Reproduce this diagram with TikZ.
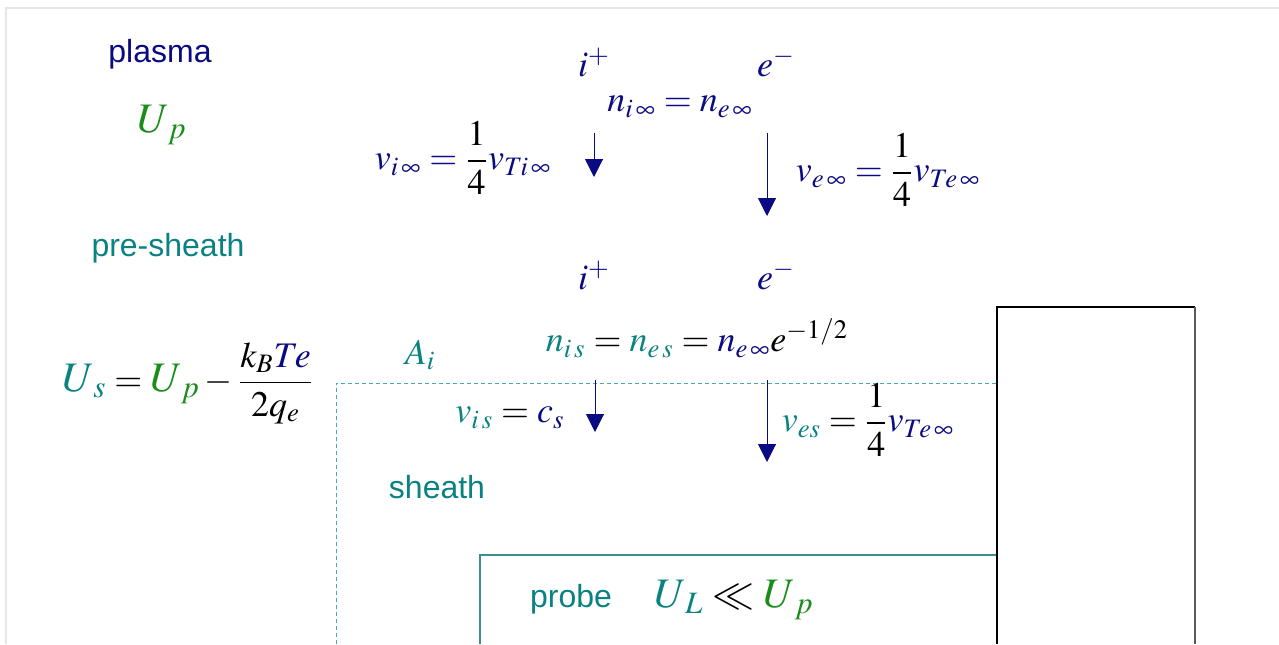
\documentclass[tikz,border=0pt]{standalone}
\usepackage{amsmath}
\usepackage{mathptmx}
\usepackage[no-math]{fontspec}
\setsansfont{Liberation Sans}
\usepackage{tikz}
\usetikzlibrary{arrows.meta}
\definecolor{cnavy}{HTML}{0A0A82}
\definecolor{cteal}{HTML}{0A8282}
\definecolor{cgreen}{HTML}{1A8C1A}
\definecolor{cdash}{HTML}{4AAAAA}
\definecolor{cbox}{HTML}{3A9090}
\definecolor{cframe}{HTML}{E6E6E6}
\begin{document}
\begin{tikzpicture}[x=0.5pt,y=-0.5pt,
  lbl/.style={font=\sffamily\fontsize{16}{19}\selectfont,inner sep=0pt},
  eq/.style={font=\fontsize{18}{22}\selectfont,inner sep=0pt},
  big/.style={font=\fontsize{21}{25}\selectfont,inner sep=0pt},
  flow/.style={draw=cnavy,line width=0.5pt,-{Triangle[length=9pt,width=9pt]}}]
  \useasboundingbox (0,0) rectangle (1279,644);
  \draw[cframe,line width=1pt] (6,644) |- (1279,8);
  % regions
  \draw[cdash,dashed,dash pattern=on 2pt off 1.5pt,line width=0.5pt] (336,644) |- (997,383);
  \draw[cbox,line width=0.6pt] (480,644) |- (997,555);
  \draw[line width=0.6pt] (997,644) |- (1195,307);
  \draw[black!65,line width=0.8pt] (1195,307) -- (1195,644);
  % labels
  \node[lbl,text=cnavy] (plasma) at (160,54) {plasma};
  \node[lbl,text=cteal] (presheath) at (168,248) {pre-sheath};
  \node[lbl,text=cteal] (sheath) at (437,487) {sheath};
  \node[lbl,text=cteal] (probe) at (571,599) {probe};
  \node[big,text=cgreen] (up) at (162,125) {$U_{\,p}$};
  % particles
  \foreach \r/\y in {1/62,2/275} {
    \node[eq,text=cnavy] (ion\r) at (594,\y) {$i^{+}$};
    \node[eq,text=cnavy] (el\r) at (776,\y) {$e^{-}$};
  }
  % far plasma
  \node[eq,text=cnavy] (ninf) at (680,107) {$n_{i\,\infty}=n_{e\,\infty}$};
  \node[eq,text=cnavy] (viinf) at (463,158) {$v_{i\,\infty}=\textcolor{black}{\dfrac{1}{4}}v_{Ti\,\infty}$};
  \node[eq,text=cnavy] (veinf) at (888,170) {$v_{e\,\infty}=\textcolor{black}{\dfrac{1}{4}}v_{Te\,\infty}$};
  % sheath edge
  \node[eq] (ns) at (697,338) {$\textcolor{cteal}{n_{i\,s}}=\textcolor{cteal}{n_{e\,s}}=\textcolor{cnavy}{n_{e\,\infty}}e^{-1/2}$};
  \node[eq,text=cteal] (Ai) at (420,355) {$A_{i}$};
  \node[eq] (us) at (188,383) {$\textcolor{cteal}{\mbox{\fontsize{21}{25}\selectfont$U_{\,s}$}}=\textcolor{cgreen}{\mbox{\fontsize{21}{25}\selectfont$U_{\,p}$}}-\dfrac{k_{B}\textcolor{cnavy}{Te}}{2q_{e}}$};
  \node[eq] (vis) at (510,418) {$\textcolor{cteal}{v_{i\,s}}=\textcolor{cnavy}{c_{s}}$};
  \node[eq] (ves) at (868,420) {$\textcolor{cteal}{v_{es}}=\dfrac{1}{4}\textcolor{cnavy}{v_{Te\,\infty}}$};
  \node[big] (ul) at (734,600) {$\textcolor{cteal}{U_{\,L}}\ll\textcolor{cgreen}{U_{\,p}}$};
  % fluxes
  \foreach \n/\x/\ya/\yb in {1/594/133/177,2/767/133/216,3/595/380/432,4/767/380/462} {
    \coordinate (a\n s) at (\x,\ya);
    \coordinate (a\n e) at (\x,\yb);
    \draw[flow] (a\n s) -- (a\n e);
  }
\end{tikzpicture}
\end{document}
